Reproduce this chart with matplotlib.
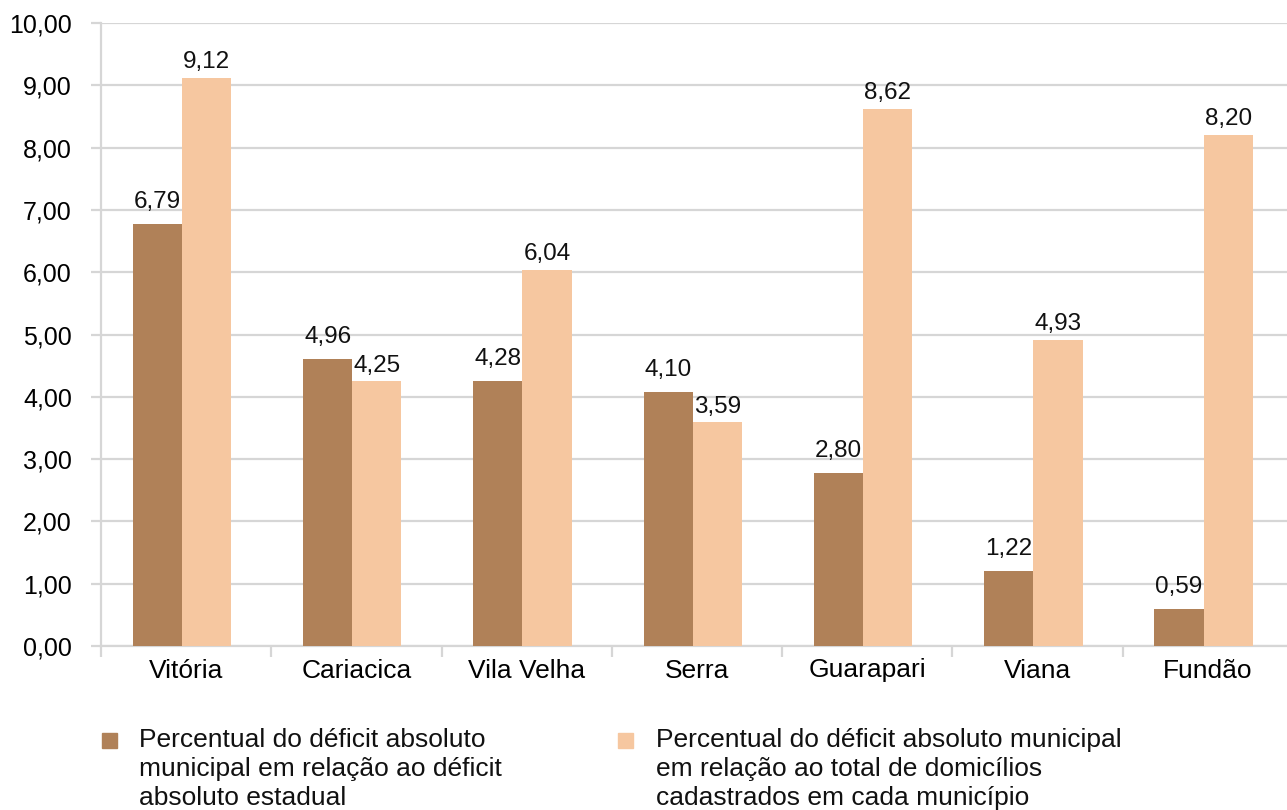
import matplotlib.pyplot as plt
from matplotlib.patches import Rectangle
import numpy as np

plt.rcParams['font.family'] = ['Liberation Sans', 'DejaVu Sans']

municipios = ["Vitória", "Cariacica", "Vila Velha", "Serra", "Guarapari", "Viana", "Fundão"]
# bar heights as drawn in the picture
deficit_estadual = [6.77, 4.60, 4.25, 4.07, 2.77, 1.20, 0.59]
deficit_domicilios = [9.12, 4.25, 6.04, 3.59, 8.62, 4.91, 8.20]
# printed labels
rotulos_estadual = ["6,79", "4,96", "4,28", "4,10", "2,80", "1,22", "0,59"]
rotulos_domicilios = ["9,12", "4,25", "6,04", "3,59", "8,62", "4,93", "8,20"]
yticks = [0, 1, 2, 3, 4, 5, 6, 7, 8, 9, 10]
legenda = ["Percentual do déficit absoluto\nmunicipal em relação ao déficit\nabsoluto estadual",
           "Percentual do déficit absoluto municipal\nem relação ao total de domicílios\ncadastrados em cada município"]

cor1 = "#B08158"
cor2 = "#F6C7A0"
cinza = "#D6D6D6"

W, H = 1287, 810
fig = plt.figure(figsize=(W / 100, H / 100), dpi=100)
ax = fig.add_axes([101 / W, (H - 646) / H, (1293 - 101) / W, (646 - 23) / H])

x = np.arange(len(municipios))
xc = x - 0.025  # group sits a little left of the category centre
w = 0.289
ax.bar(xc - w / 2, deficit_estadual, w, color=cor1, zorder=3)
ax.bar(xc + w / 2, deficit_domicilios, w, color=cor2, zorder=3)

for xi, v, t in zip(xc, deficit_estadual, rotulos_estadual):
    ax.annotate(t, (xi - w / 2, v), xytext=(0, 12), textcoords="offset points",
                ha="center", va="baseline", fontsize=17.5, color="#111111")
for xi, v, t in zip(xc, deficit_domicilios, rotulos_domicilios):
    ax.annotate(t, (xi + w / 2, v), xytext=(0, 7), textcoords="offset points",
                ha="center", va="baseline", fontsize=17.5, color="#111111")

ax.set_xlim(-0.5, len(municipios) - 0.5)
ax.set_ylim(0, 10)
ax.set_yticks(yticks)
ax.set_yticklabels([f"{t:.2f}".replace(".", ",") for t in yticks], fontsize=18)
ax.yaxis.grid(True, color=cinza, lw=1.6, zorder=0)
ax.tick_params(axis="y", length=7, width=1.6, color=cinza, pad=14)

ax.set_xticks(np.arange(len(municipios) + 1) - 0.5)
ax.set_xticklabels([])
ax.set_xticks(x, minor=True)
ax.set_xticklabels(municipios, minor=True, fontsize=19)
ax.tick_params(axis="x", which="major", length=8, width=1.6, color=cinza)
ax.tick_params(axis="x", which="minor", length=0, pad=9)

for s in ["top", "right"]:
    ax.spines[s].set_visible(False)
for s in ["left", "bottom"]:
    ax.spines[s].set_color(cinza)
    ax.spines[s].set_linewidth(1.6)

# legend drawn below the axes (baseline of the last line is given)
for (sx, tx), txt, c in zip([(102, 139), (618, 656)], legenda, [cor1, cor2]):
    fig.patches.append(Rectangle((sx / W, (H - 748) / H), 15 / W, 15 / H,
                                 transform=fig.transFigure, color=c))
    fig.text(tx / W, (H - 805) / H, txt, ha="left", va="baseline", fontsize=19,
             linespacing=1.27, color="#111111")

fig.savefig("out.png", dpi=100)
